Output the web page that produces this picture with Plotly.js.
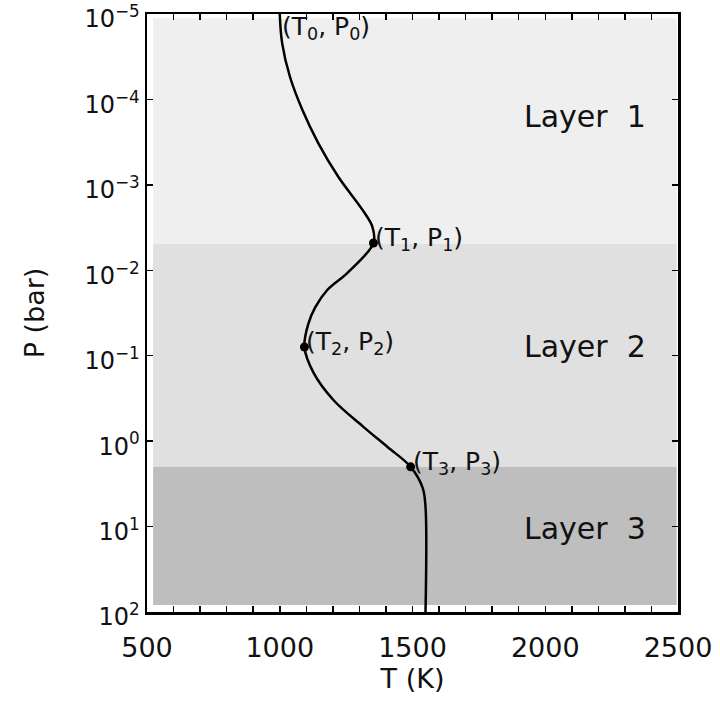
<!DOCTYPE html>
<html>
<head>
<meta charset="utf-8">
<script src="https://cdn.plot.ly/plotly-3.0.1.min.js"></script>
<style>html,body{margin:0;padding:0;background:#fff;}#chart{width:720px;height:705px;}</style>
</head>
<body>
<div id="chart"></div>
<script>
// Temperature-pressure profile
var profileT = [1000, 1009, 1039, 1085, 1145, 1221, 1311, 1349, 1353, 1255, 1179, 1134, 1108, 1093, 1127, 1202, 1315, 1406, 1493, 1538, 1549, 1549];
var profileP = [1.0e-5, 2.19e-5, 5.5e-5, 1.32e-4, 3.24e-4, 8.1e-4, 1.95e-3, 3.1e-3, 4.8e-3, 1.07e-2, 1.7e-2, 2.7e-2, 4.2e-2, 7.9e-2, 0.158, 0.33, 0.68, 1.17, 2.0, 3.5, 5.9, 100];

// Labelled nodes
var nodeLabels = ["(T<sub>0</sub>, P<sub>0</sub>)", "(T<sub>1</sub>, P<sub>1</sub>)", "(T<sub>2</sub>, P<sub>2</sub>)", "(T<sub>3</sub>, P<sub>3</sub>)"];
var nodeT = [1000, 1353, 1093, 1493];
var nodeP = [1.0e-5, 4.8e-3, 7.9e-2, 2.0];
var nodeDot = [false, true, true, true];

// Layers
var layerNames = ["Layer\u00a0\u00a01", "Layer\u00a0\u00a02", "Layer\u00a0\u00a03"];
var layerTopP = [1.12e-5, 4.9e-3, 2.0];
var layerBottomP = [4.9e-3, 2.0, 83];
var layerLabelP = [1.6e-4, 7.9e-2, 10.5];
var layerTmin = 523;
var layerTmax = 2495;
var layerLabelT = 2150;

// Axes ticks
var xTickVals = [500, 1000, 1500, 2000, 2500];
var yTickVals = [1e-5, 1e-4, 1e-3, 1e-2, 1e-1, 1e0, 1e1, 1e2];
var yTickText = ["10<sup>\u22125</sup>", "10<sup>\u22124</sup>", "10<sup>\u22123</sup>", "10<sup>\u22122</sup>", "10<sup>\u22121</sup>", "10<sup>0</sup>", "10<sup>1</sup>", "10<sup>2</sup>"];

var layerColors = ["#efefef", "#e0e0e0", "#bebebe"];
var FONT = "DejaVu Sans, Liberation Sans, sans-serif";

var shapes = [];
var annotations = [];
for (var i = 0; i < layerNames.length; i++) {
  shapes.push({type: "rect", xref: "x", yref: "y", x0: layerTmin, x1: layerTmax,
    y0: layerTopP[i], y1: layerBottomP[i], fillcolor: layerColors[i], line: {width: 0}, layer: "below"});
  annotations.push({xref: "x", yref: "y", x: layerLabelT, y: Math.log10(layerLabelP[i]), text: layerNames[i],
    showarrow: false, xanchor: "center", yanchor: "middle", font: {family: FONT, size: 30, color: "#111"}});
}

var dotT = [], dotP = [];
for (var j = 0; j < nodeLabels.length; j++) {
  if (nodeDot[j]) { dotT.push(nodeT[j]); dotP.push(nodeP[j]); }
  annotations.push({xref: "x", yref: "y", x: nodeT[j], y: Math.log10(nodeP[j]), text: nodeLabels[j],
    showarrow: false, xanchor: "left", yanchor: j === 0 ? "top" : "middle", xshift: 0, yshift: 4,
    font: {family: FONT, size: 25, color: "#111"}});
}

var traces = [
  {x: profileT, y: profileP, mode: "lines", type: "scatter", line: {color: "#000", width: 2.5, shape: "spline", smoothing: 1}, hoverinfo: "skip"},
  {x: dotT, y: dotP, mode: "markers", type: "scatter", marker: {color: "#000", size: 9}, hoverinfo: "skip"}
];

var layout = {
  width: 720, height: 705,
  margin: {l: 147, r: 42, t: 14, b: 93},
  paper_bgcolor: "#fff", plot_bgcolor: "#fff",
  showlegend: false,
  font: {family: FONT, color: "#111"},
  xaxis: {
    range: [500, 2500], tickvals: xTickVals, ticks: "inside", ticklen: 6, tickwidth: 1.5, tickcolor: "#000",
    minor: {dtick: 100, ticks: "inside", ticklen: 6, tickwidth: 1.5, tickcolor: "#000"},
    showline: true, linecolor: "#000", linewidth: 2.5, mirror: "ticks", showgrid: false, zeroline: false,
    ticklabelstandoff: 10,
    tickfont: {family: FONT, size: 27, color: "#111"},
    title: {text: "T (K)", font: {family: FONT, size: 27, color: "#111"}, standoff: 6}
  },
  yaxis: {
    type: "log", range: [2, -5], tickvals: yTickVals, ticktext: yTickText,
    ticks: "inside", ticklen: 6, tickwidth: 1.5, tickcolor: "#000",
    showline: true, linecolor: "#000", linewidth: 2.5, mirror: "ticks", showgrid: false, zeroline: false,
    ticklabeloverflow: "allow", ticklabelshift: -5,
    tickfont: {family: FONT, size: 24, color: "#111"},
    title: {text: "P (bar)", font: {family: FONT, size: 27, color: "#111"}, standoff: 32}
  },
  shapes: shapes,
  annotations: annotations
};

Plotly.newPlot("chart", traces, layout, {staticPlot: true, displayModeBar: false});
</script>
</body>
</html>
